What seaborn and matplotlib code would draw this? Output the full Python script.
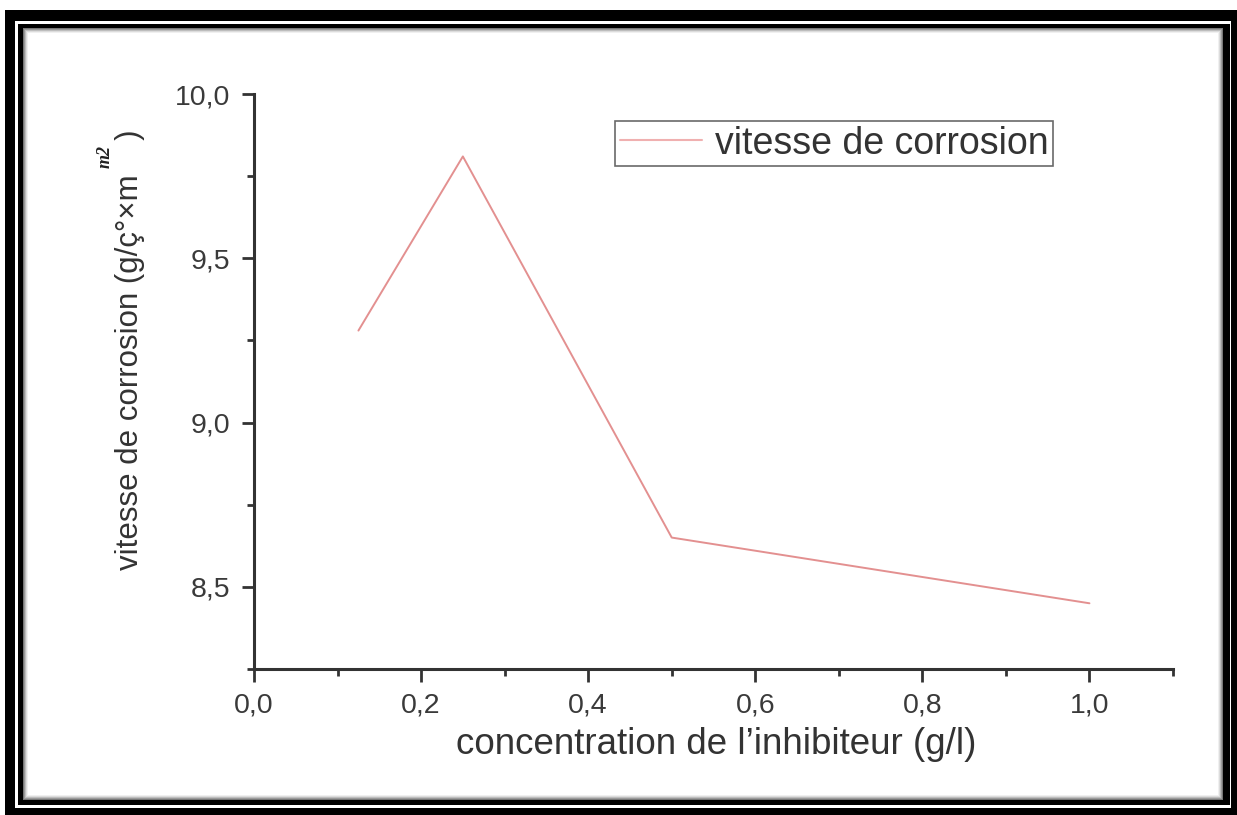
import matplotlib
matplotlib.use("Agg")
import matplotlib.pyplot as plt
from matplotlib.patches import Rectangle
from matplotlib.ticker import MultipleLocator, FuncFormatter
import seaborn as sns
import pandas as pd

# ---- data ----
concentration = [0.125, 0.25, 0.5, 1.0]
vitesse = [9.28, 9.81, 8.65, 8.45]
series_label = "vitesse de corrosion"
x_label = "concentration de l\u2019inhibiteur (g/l)"
y_label = "vitesse de corrosion (g/\u00e7\u00b0\u00d7m    )"
y_unit = "m2"
x_ticks = [0.0, 0.2, 0.4, 0.6, 0.8, 1.0]
y_ticks = [8.5, 9.0, 9.5, 10.0]

df = pd.DataFrame({"x": concentration, "y": vitesse})

sns.set_theme(style="white")
plt.rcParams["font.family"] = ["Liberation Sans", "DejaVu Sans"]

W, H = 1237, 815
fig = plt.figure(figsize=(W / 100, H / 100), dpi=100)
fig.patch.set_facecolor("white")


def rect_px(x0, y0, x1, y1, color, z=-10):
    r = Rectangle((x0 / W, 1 - y1 / H), (x1 - x0) / W, (y1 - y0) / H,
                  transform=fig.transFigure, facecolor=color,
                  edgecolor="none", linewidth=0, zorder=z)
    fig.add_artist(r)


# frame
rect_px(5, 10, 1237, 815, "black", z=-10)
rect_px(15, 21, 1231, 808, "white", z=-9)
rect_px(18, 24, 1230, 805, "black", z=-8)
shades = ["#777777", "#9a9a9a", "#bdbdbd", "#dcdcdc", "#f0f0f0"]
for i, c in enumerate(shades):
    rect_px(23 + i, 28 + i, 1223 - i, 800 - i, c, z=-7 + i * 0.1)
rect_px(28, 33, 1218, 795, "white", z=-6)

ax = fig.add_axes([254 / W, 1 - 669 / H, (1173 - 254) / W, (669 - 94) / H])
ax.set_facecolor("none")
ax.set_zorder(1)

sns.lineplot(data=df, x="x", y="y", ax=ax, color="#e39090", linewidth=1.4,
             label=series_label, sort=False)

ax.set_xlim(0, 1.1)
ax.set_ylim(8.25, 10.0)
ax.xaxis.set_minor_locator(MultipleLocator(0.1))
ax.yaxis.set_minor_locator(MultipleLocator(0.25))
ax.set_xticks(x_ticks)
ax.set_yticks(y_ticks)
fmt = FuncFormatter(lambda v, p: f"{v:.1f}".replace(".", ","))
ax.xaxis.set_major_formatter(fmt)
ax.yaxis.set_major_formatter(fmt)

for s in ["top", "right"]:
    ax.spines[s].set_visible(False)
for s in ["left", "bottom"]:
    ax.spines[s].set_color("#333333")
    ax.spines[s].set_linewidth(2.2)

ax.tick_params(which="major", direction="out", length=9, width=2, color="#333333",
               labelsize=20.5, labelcolor="#3a3a3a", pad=8, left=True, bottom=True)
ax.tick_params(which="minor", direction="out", length=5, width=2, color="#333333",
               left=True, bottom=True)

ax.set_xlabel("")
ax.set_ylabel("")
fig.text(716 / W, 1 - 745 / H, x_label, ha="center", va="center",
         fontsize=26.5, color="#333333")
fig.text(130 / W, 1 - 350 / H, y_label, ha="center", va="center", rotation=90,
         fontsize=22.5, color="#333333")
fig.text(105 / W, 1 - 156 / H, y_unit, ha="center", va="center", rotation=90,
         fontsize=13, color="#222222", fontweight="bold", fontstyle="italic",
         family=["Liberation Serif", "DejaVu Serif"])

leg = ax.legend(loc="upper left", bbox_to_anchor=(615 / W, 1 - 121 / H),
                bbox_transform=fig.transFigure, fontsize=27, frameon=True,
                fancybox=False, handlelength=2.2, handletextpad=0.35,
                borderpad=0.12, borderaxespad=0)
leg.get_frame().set_edgecolor("#444444")
leg.get_frame().set_linewidth(1.2)
for t in leg.get_texts():
    t.set_color("#333333")
for l in leg.get_lines():
    l.set_color("#f0b0b0")
    l.set_linewidth(1.5)

fig.savefig("out.png", dpi=100)
